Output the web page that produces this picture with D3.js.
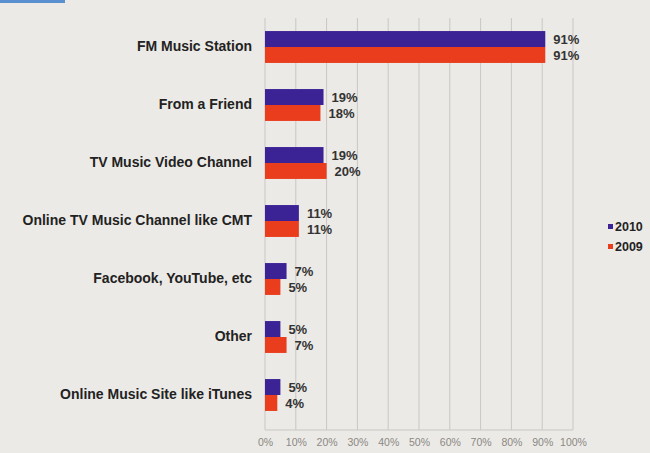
<!DOCTYPE html>
<html><head><meta charset="utf-8">
<script src="https://cdn.jsdelivr.net/npm/d3@7"></script>
<style>
html,body{margin:0;padding:0;background:#eceae6;}
svg{display:block;}
</style></head>
<body>
<svg id="c" width="650" height="453"></svg>
<script>
const categories = ["FM Music Station","From a Friend","TV Music Video Channel","Online TV Music Channel like CMT","Facebook, YouTube, etc","Other","Online Music Site like iTunes"];
const series = ["2010","2009"];
const values2010 = [91,19,19,11,7,5,5];
const values2009 = [91,18,20,11,5,7,4];
const tickValues = [0,10,20,30,40,50,60,70,80,90,100];
const colors = {"2010":"#3b2295","2009":"#ea3d1e"};

(function(){
const svg = d3.select("#c");
svg.append("rect").attr("width",650).attr("height",453).attr("fill","#eceae6");
svg.append("rect").attr("x",0).attr("y",0).attr("width",65).attr("height",3).attr("fill","#5a8fd0");

const pL = 265, pR = 573, pT = 18, pB = 430;
const x = d3.scaleLinear().domain([0,100]).range([pL,pR]);
const y = d3.scaleBand().domain(categories).range([pT, 424]).paddingInner(0.45).paddingOuter(0.225);
const ySub = d3.scaleBand().domain(series).range([0, y.bandwidth()]);

// gridlines
svg.append("g").selectAll("line").data(tickValues).join("line")
  .attr("x1",d=>x(d)).attr("x2",d=>x(d)).attr("y1",pT).attr("y2",pB)
  .attr("stroke","#c9c7c3").attr("stroke-width",1);
svg.append("line").attr("x1",pL).attr("x2",pR).attr("y1",pB).attr("y2",pB).attr("stroke","#c9c7c3");

// x axis labels
const xAxis = d3.axisBottom(x).tickValues(tickValues).tickFormat(d=>d+"%").tickSize(0).tickPadding(0);
const gx = svg.append("g").attr("transform",`translate(0,${pB+9})`).call(xAxis);
gx.select(".domain").remove();
gx.selectAll("text").attr("font-family","Liberation Sans Narrow, Liberation Sans, Arial").attr("font-size",10.5).attr("fill","#8a8884");

const data = categories.map((c,i)=>({cat:c, vals:[{s:"2010",v:values2010[i]},{s:"2009",v:values2009[i]}]}));
const groups = svg.append("g").selectAll("g").data(data).join("g")
  .attr("transform",d=>`translate(0,${y(d.cat)})`);
groups.selectAll("rect").data(d=>d.vals).join("rect")
  .attr("x",x(0)).attr("y",d=>ySub(d.s)).attr("width",d=>x(d.v)-x(0)).attr("height",ySub.bandwidth())
  .attr("fill",d=>colors[d.s]);
groups.selectAll("text.val").data(d=>d.vals).join("text").attr("class","val")
  .attr("x",d=>x(d.v)+8).attr("y",d=>ySub(d.s)+ySub.bandwidth()/2).attr("dy","0.35em")
  .attr("font-family","Liberation Sans, Arial").attr("font-weight","bold").attr("font-size",13).attr("fill","#333")
  .text(d=>d.v+"%");

// category labels
const yAxis = d3.axisLeft(y).tickSize(0).tickPadding(13);
const gy = svg.append("g").attr("transform",`translate(${pL},0)`).call(yAxis);
gy.select(".domain").remove();
gy.selectAll("text").attr("font-family","Liberation Sans, Arial").attr("font-weight","bold").attr("font-size",14).attr("fill","#222");

// legend
const leg = svg.append("g").attr("transform","translate(608,227)");
series.forEach((s,i)=>{
  const g = leg.append("g").attr("transform",`translate(0,${i*20})`);
  g.append("rect").attr("x",0).attr("y",-3).attr("width",5).attr("height",5).attr("fill",colors[s]);
  g.append("text").attr("x",7).attr("y",0).attr("dy","0.35em").attr("font-family","Liberation Sans, Arial").attr("font-weight","bold").attr("font-size",12.5).attr("fill","#222").text(s);
});
})();
</script>
</body></html>
